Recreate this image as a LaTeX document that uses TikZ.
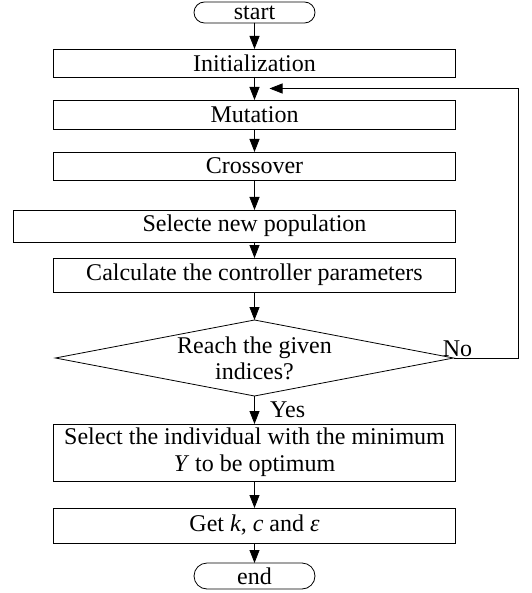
\documentclass[tikz,border=0pt]{standalone}
\usepackage{fontspec}
\setmainfont{Liberation Serif}
\usetikzlibrary{positioning,calc,shapes.geometric,shapes.misc,arrows.meta}

\begin{document}
\begin{tikzpicture}[x=1pt,y=-1pt,->,>={Triangle[length=13pt,width=10pt]},thick,
    font=\fontsize{24}{26}\selectfont,
    step node/.style={rectangle,draw,minimum width=402pt,inner sep=2pt,outer sep=0pt,align=center},
    end node/.style={rounded rectangle,draw,minimum width=121pt,minimum height=21pt,inner sep=0pt,outer sep=0pt},
    test node/.style={diamond,draw,aspect=5.24,inner sep=0pt,outer sep=0pt,align=center,minimum width=398pt,minimum height=76pt}]
                \useasboundingbox (0,0) rectangle (531,593);

                \node[end node] (1) at (254.5,12.5) {start};
                \node[step node,minimum height=28pt] (2) [below=26pt of 1] {Initialization};
                \node[step node,minimum height=29pt] (3) [below=23pt of 2] {Mutation};
                \node[step node,minimum height=28pt] (4) [below=23pt of 3] {Crossover};
                \node[step node,minimum height=32pt,minimum width=442pt] (5) [below=30pt of 4,xshift=-20pt] {\hspace*{40pt}Selecte new population};
                \node[step node,minimum height=34pt] (6) [below=16pt of 5,xshift=20pt] {Calculate the controller parameters};
                \node[test node] (7) [below=28pt of 6] {Reach the given\\indices?};
                \node[step node,minimum height=57pt,font=\fontsize{24}{27}\selectfont] (8) [below=28pt of 7] {Select the individual with the minimum\\\textit{Y} to be optimum};
                \node[step node,minimum height=35pt] (9) [below=27pt of 8] {Get \textit{k}, \textit{c} and \textit{ε}};
                \node[end node,minimum height=26pt] (10) [below=20pt of 9] {end};

                % loop back above Mutation
                \coordinate (j) at ($(2.south)!0.5!(3.north)+(15pt,0)$);

                \path
                    (1) edge (2)
                    (2) edge (3)
                    (3) edge (4)
                    (4) edge (4|-5.north)
                    (6|-5.south) edge (6)
                    (6) edge (7)
                    (7) edge node[right,xshift=12pt] {Yes} (8)
                    (8) edge (9)
                    (9) edge (10)
                    ;
                \draw (7.east) node[anchor=south,xshift=4pt,inner sep=1pt] {No} -- ++(65pt,0) |- (j);
            \end{tikzpicture}
\end{document}
